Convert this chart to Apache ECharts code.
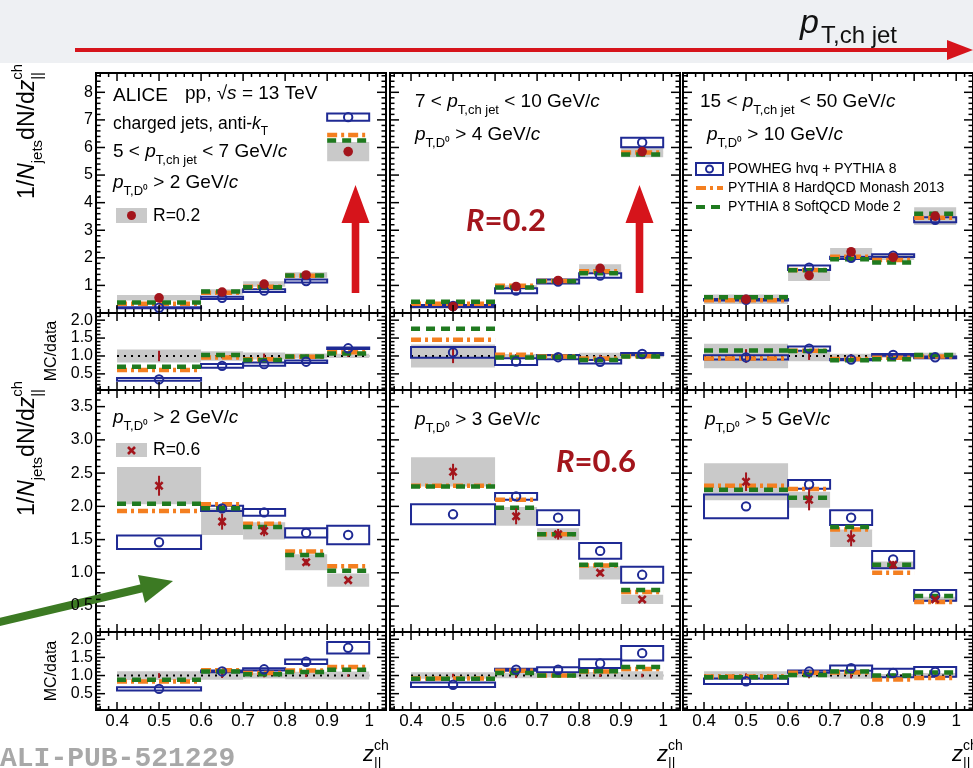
<!DOCTYPE html>
<html>
<head>
<meta charset="utf-8">
<script src="https://cdn.jsdelivr.net/npm/echarts@6.0.0/dist/echarts.min.js"></script>
<style>
  html, body { margin: 0; padding: 0; background: #ffffff; }
  #chart { width: 973px; height: 768px; }
</style>
</head>
<body>
<div id="chart"></div>
<script>
// z_|| bins
const binLow  = [0.4, 0.6, 0.7, 0.8, 0.9];
const binHigh = [0.6, 0.7, 0.8, 0.9, 1.0];
const binMid  = [0.5, 0.65, 0.75, 0.85, 0.95];

// axis tick labels
const xTickLabels       = [0.4, 0.5, 0.6, 0.7, 0.8, 0.9, 1];
const yLabelsTopMain    = [1, 2, 3, 4, 5, 6, 7, 8];
const yLabelsBottomMain = [0.5, 1.0, 1.5, 2.0, 2.5, 3.0, 3.5];
const yLabelsRatio      = [0.5, 1.0, 1.5, 2.0];

// R = 0.2, 5 < pT,ch jet < 7 GeV/c, pT,D0 > 2 GeV/c
const dataA   = [0.55, 0.76, 1.05, 1.38, 5.85];
const statA   = [0.08, 0.05, 0.07, 0.05, 0.15];
const sysA    = [0.10, 0.10, 0.10, 0.10, 0.35];
const powA    = [0.19, 0.55, 0.81, 1.16, 7.10];
const powErrA = [0.022, 0.04, 0.05, 0.05, 0.13];
const monA    = [0.335, 0.73, 0.955, 1.35, 6.45];
const softA   = [0.385, 0.78, 0.93, 1.36, 6.25];

// R = 0.2, 7 < pT,ch jet < 10 GeV/c, pT,D0 > 4 GeV/c
const dataB   = [0.23, 0.96, 1.18, 1.62, 5.85];
const statB   = [0.046, 0.05, 0.05, 0.05, 0.10];
const sysB    = [0.074, 0.05, 0.06, 0.15, 0.20];
const powB    = [0.253, 0.81, 1.14, 1.36, 6.18];
const powErrB = [0.035, 0.09, 0.07, 0.08, 0.17];
const monB    = [0.334, 0.99, 1.16, 1.51, 5.82];
const softB   = [0.405, 0.92, 1.15, 1.44, 5.75];

// R = 0.2, 15 < pT,ch jet < 50 GeV/c, pT,D0 > 10 GeV/c
const dataC   = [0.50, 1.36, 2.22, 2.02, 3.51];
const statC   = [0.095, 0.15, 0.12, 0.07, 0.10];
const sysC    = [0.17, 0.20, 0.14, 0.10, 0.32];
const powC    = [0.48, 1.64, 2.00, 2.08, 3.38];
const powErrC = [0.03, 0.08, 0.04, 0.05, 0.09];
const monC    = [0.465, 1.56, 2.04, 1.92, 3.45];
const softC   = [0.575, 1.55, 1.95, 1.83, 3.60];

// R = 0.6, pT,D0 > 2 GeV/c
const dataD   = [2.31, 1.77, 1.63, 1.16, 0.89];
const statD   = [0.15, 0.12, 0.08, 0.05, 0.03];
const sysD    = [0.28, 0.20, 0.13, 0.12, 0.10];
const powD    = [1.46, 1.97, 1.91, 1.60, 1.57];
const powErrD = [0.10, 0.04, 0.05, 0.07, 0.14];
const monD    = [1.93, 2.03, 1.74, 1.32, 1.10];
const softD   = [2.04, 1.97, 1.69, 1.27, 1.03];

// R = 0.6, pT,D0 > 3 GeV/c
const dataE   = [2.52, 1.85, 1.58, 1.00, 0.60];
const statE   = [0.12, 0.12, 0.08, 0.04, 0.03];
const sysE    = [0.22, 0.14, 0.09, 0.10, 0.07];
const powE    = [1.88, 2.15, 1.83, 1.33, 0.97];
const powErrE = [0.15, 0.05, 0.11, 0.12, 0.12];
const monE    = [2.31, 2.10, 1.58, 1.11, 0.71];
const softE   = [2.30, 1.98, 1.58, 1.12, 0.74];

// R = 0.6, pT,D0 > 5 GeV/c
const dataF   = [2.37, 2.10, 1.52, 1.12, 0.60];
const statF   = [0.14, 0.16, 0.12, 0.06, 0.03];
const sysF    = [0.28, 0.12, 0.13, 0.05, 0.04];
const powF    = [2.00, 2.33, 1.83, 1.20, 0.66];
const powErrF = [0.18, 0.065, 0.11, 0.13, 0.08];
const monF    = [2.31, 2.26, 1.65, 1.00, 0.56];
const softF   = [2.25, 2.13, 1.69, 1.12, 0.65];

const panels = [
  { data: dataA, stat: statA, sys: sysA, pow: powA, powErr: powErrA, mon: monA, soft: softA, mark: 'dot' },
  { data: dataB, stat: statB, sys: sysB, pow: powB, powErr: powErrB, mon: monB, soft: softB, mark: 'dot' },
  { data: dataC, stat: statC, sys: sysC, pow: powC, powErr: powErrC, mon: monC, soft: softC, mark: 'dot' },
  { data: dataD, stat: statD, sys: sysD, pow: powD, powErr: powErrD, mon: monD, soft: softD, mark: 'x' },
  { data: dataE, stat: statE, sys: sysE, pow: powE, powErr: powErrE, mon: monE, soft: softE, mark: 'x' },
  { data: dataF, stat: statF, sys: sysF, pow: powF, powErr: powErrF, mon: monF, soft: softF, mark: 'x' }
];

const FONT = '"Liberation Sans", Arial, Helvetica, sans-serif';
const COL = {
  data: '#a3151c', sys: '#c9c9c9', pow: '#1f2a94',
  mon: '#f47f20', soft: '#1f7a1f', arrow: '#d6141b', label: '#a3151c'
};
const monStyle  = { stroke: COL.mon,  lineWidth: 4.5, lineDash: [10, 4, 3, 4] };
const softStyle = { stroke: COL.soft, lineWidth: 4.5, lineDash: [9, 6] };

// panel geometry
const colLeft = [96, 390, 683];
const colWidth = 290;
const xMin = 0.35, xMax = 1.04;
const rows = [
  { top: 73,  height: 240, min: 0,    max: 8.7,  labels: yLabelsTopMain,    major: 1,   minor: 0.2, fmt: v => String(v) },
  { top: 313, height: 77,  min: 0.05, max: 2.2,  labels: yLabelsRatio,      major: 0.5, minor: 0.1, fmt: v => v.toFixed(1) },
  { top: 390, height: 242, min: 0.11, max: 3.75, labels: yLabelsBottomMain, major: 0.5, minor: 0.1, fmt: v => v.toFixed(1) },
  { top: 632, height: 78,  min: 0.05, max: 2.2,  labels: yLabelsRatio,      major: 0.5, minor: 0.1, fmt: v => v.toFixed(1) }
];

function stepValues(lo, hi, step, skip) {
  const out = [];
  const n0 = Math.ceil(lo / step - 1e-9), n1 = Math.floor(hi / step + 1e-9);
  for (let k = n0; k <= n1; k++) {
    const v = +(k * step).toFixed(6);
    if (skip && Math.abs(v / skip - Math.round(v / skip)) < 1e-6) continue;
    out.push(v);
  }
  return out;
}

const grids = [], xAxes = [], yAxes = [], series = [];

function addGrid(gi, col, row, showX, showY) {
  grids[gi] = {
    left: colLeft[col], top: row.top, width: colWidth, height: row.height,
    show: true, borderColor: '#000', borderWidth: 2, backgroundColor: 'rgba(0,0,0,0)'
  };
  xAxes[gi] = {
    gridIndex: gi, type: 'value', min: xMin, max: xMax,
    axisLine: { show: false }, axisTick: { show: false }, splitLine: { show: false },
    axisLabel: showX ? {
      customValues: xTickLabels, formatter: v => (v === 1 ? '1' : v.toFixed(1)),
      fontSize: 17, color: '#000', fontFamily: FONT, margin: 3
    } : { show: false }
  };
  yAxes[gi] = {
    gridIndex: gi, type: 'value', min: row.min, max: row.max,
    axisLine: { show: false }, axisTick: { show: false }, splitLine: { show: false },
    axisLabel: showY ? {
      customValues: row.labels, formatter: row.fmt,
      fontSize: 16, color: '#000', fontFamily: FONT, margin: 3
    } : { show: false }
  };
  // ROOT style ticks on all four sides, pointing inwards
  const xMaj = stepValues(0.4, 1.0, 0.1);
  const xMnr = stepValues(xMin, xMax, 0.02, 0.1);
  const yMaj = stepValues(row.min, row.max, row.major);
  const yMnr = stepValues(row.min, row.max, row.minor, row.major);
  series.push({
    type: 'custom', xAxisIndex: gi, yAxisIndex: gi, z: 7, silent: true,
    data: [[xMin, row.min]],
    renderItem: (params, api) => {
      const ch = [];
      const L = (x1, y1, x2, y2) => ch.push({ type: 'line', shape: { x1, y1, x2, y2 }, style: { stroke: '#000', lineWidth: 1.5 } });
      const xt = (v, len) => {
        const b = api.coord([v, row.min]), t = api.coord([v, row.max]);
        L(b[0], b[1], b[0], b[1] - len); L(t[0], t[1], t[0], t[1] + len);
      };
      const yt = (v, len) => {
        const l = api.coord([xMin, v]), r = api.coord([xMax, v]);
        L(l[0], l[1], l[0] + len, l[1]); L(r[0], r[1], r[0] - len, r[1]);
      };
      xMaj.forEach(v => xt(v, 8)); xMnr.forEach(v => xt(v, 4));
      yMaj.forEach(v => yt(v, 9)); yMnr.forEach(v => yt(v, 4.5));
      return { type: 'group', children: ch };
    }
  });
}

function boxSeries(gi, items, style, z) {
  return {
    type: 'custom', xAxisIndex: gi, yAxisIndex: gi, z, silent: true, data: items,
    renderItem: (params, api) => {
      const a = api.coord([api.value(0), api.value(3)]);
      const b = api.coord([api.value(1), api.value(2)]);
      return { type: 'rect', shape: { x: a[0], y: a[1], width: b[0] - a[0], height: b[1] - a[1] }, style: Object.assign({}, style) };
    }
  };
}

function lineSeries(gi, items, style, z) {
  return {
    type: 'custom', xAxisIndex: gi, yAxisIndex: gi, z, silent: true, data: items,
    renderItem: (params, api) => {
      const a = api.coord([api.value(0), api.value(2)]);
      const b = api.coord([api.value(1), api.value(2)]);
      return { type: 'line', shape: { x1: a[0], y1: a[1], x2: b[0], y2: b[1] }, style: Object.assign({}, style) };
    }
  };
}

function pointSeries(gi, items, kind, color, z) {
  return {
    type: 'custom', xAxisIndex: gi, yAxisIndex: gi, z, silent: true, data: items,
    renderItem: (params, api) => {
      const c = api.coord([api.value(0), api.value(1)]);
      const lo = api.coord([api.value(0), api.value(2)]);
      const hi = api.coord([api.value(0), api.value(3)]);
      const ch = [];
      if (Math.abs(lo[1] - hi[1]) > 0.5) {
        ch.push({ type: 'line', shape: { x1: c[0], y1: lo[1], x2: c[0], y2: hi[1] }, style: { stroke: color, lineWidth: 2 } });
      }
      if (kind === 'dot') {
        ch.push({ type: 'circle', shape: { cx: c[0], cy: c[1], r: 4.8 }, style: { fill: color } });
      } else if (kind === 'open') {
        ch.push({ type: 'circle', shape: { cx: c[0], cy: c[1], r: 4.2 }, style: { fill: 'none', stroke: color, lineWidth: 2 } });
      } else if (kind === 'x') {
        const s = 3.6;
        ch.push({ type: 'line', shape: { x1: c[0] - s, y1: c[1] - s, x2: c[0] + s, y2: c[1] + s }, style: { stroke: color, lineWidth: 2.6 } });
        ch.push({ type: 'line', shape: { x1: c[0] - s, y1: c[1] + s, x2: c[0] + s, y2: c[1] - s }, style: { stroke: color, lineWidth: 2.6 } });
      }
      return { type: 'group', children: ch };
    }
  };
}

panels.forEach((P, p) => {
  const col = p % 3, r = Math.floor(p / 3);
  const gm = 2 * p, gr = 2 * p + 1;
  addGrid(gm, col, rows[2 * r], false, col === 0);
  addGrid(gr, col, rows[2 * r + 1], r === 1, col === 0);

  // distributions
  series.push(boxSeries(gm, binLow.map((lo, i) => [lo, binHigh[i], P.data[i] - P.sys[i], P.data[i] + P.sys[i]]), { fill: COL.sys }, 1));
  series.push(boxSeries(gm, binLow.map((lo, i) => [lo, binHigh[i], P.pow[i] - P.powErr[i], P.pow[i] + P.powErr[i]]), { fill: 'none', stroke: COL.pow, lineWidth: 2 }, 2));
  series.push(lineSeries(gm, binLow.map((lo, i) => [lo, binHigh[i], P.mon[i]]), monStyle, 3));
  series.push(lineSeries(gm, binLow.map((lo, i) => [lo, binHigh[i], P.soft[i]]), softStyle, 4));
  series.push(pointSeries(gm, binMid.map((x, i) => [x, P.pow[i], P.pow[i], P.pow[i]]), 'open', COL.pow, 5));
  series.push(pointSeries(gm, binMid.map((x, i) => [x, P.data[i], P.data[i] - P.stat[i], P.data[i] + P.stat[i]]), P.mark, COL.data, 6));

  // MC / data
  const rel = (arr, i) => arr[i] / P.data[i];
  series.push(boxSeries(gr, binLow.map((lo, i) => [lo, binHigh[i], 1 - rel(P.sys, i), 1 + rel(P.sys, i)]), { fill: COL.sys }, 1));
  series.push(lineSeries(gr, [[0.4, 1.0, 1]], { stroke: '#000', lineWidth: 2, lineDash: [2, 5] }, 2));
  series.push(pointSeries(gr, binMid.map((x, i) => [x, 1, 1 - rel(P.stat, i), 1 + rel(P.stat, i)]), 'none', COL.data, 3));
  series.push(boxSeries(gr, binLow.map((lo, i) => [lo, binHigh[i], rel(P.pow, i) - rel(P.powErr, i), rel(P.pow, i) + rel(P.powErr, i)]), { fill: 'none', stroke: COL.pow, lineWidth: 2 }, 3));
  series.push(lineSeries(gr, binLow.map((lo, i) => [lo, binHigh[i], rel(P.mon, i)]), monStyle, 4));
  series.push(lineSeries(gr, binLow.map((lo, i) => [lo, binHigh[i], rel(P.soft, i)]), softStyle, 5));
  series.push(pointSeries(gr, binMid.map((x, i) => [x, rel(P.pow, i), rel(P.pow, i), rel(P.pow, i)]), 'open', COL.pow, 6));
});

// ---------- text helpers (sub/superscripts laid out piece by piece) ----------
const measureCtx = document.createElement('canvas').getContext('2d');
function textWidth(t, size, italic, weight, family) {
  measureCtx.font = `${italic ? 'italic' : 'normal'} ${weight || 'normal'} ${size}px ${family || FONT}`;
  return measureCtx.measureText(t).width;
}
function richParts(parts, base, o) {
  const fam = o.family || FONT, weight = o.weight || 'normal', color = o.color || '#000';
  const small = o.small || Math.round(base * 0.7);
  const children = [];
  let cx = 0;
  for (let p of parts) {
    if (typeof p === 'string') p = { t: p };
    const size = (p.sub || p.sup) ? small : base;
    const dy = p.sub ? base * 0.42 : (p.sup ? -base * 0.42 : 0);
    children.push({
      type: 'text', x: cx, y: dy, silent: true,
      style: { text: p.t, fontSize: size, fontFamily: fam, fontWeight: weight, fontStyle: p.i ? 'italic' : 'normal', fill: color, align: 'left', verticalAlign: 'middle' }
    });
    if (!p.hold) cx += textWidth(p.t, size, p.i, weight, fam);
  }
  return { children, width: cx };
}
function textAt(x, y, parts, base, o = {}) {
  const r = richParts(parts, base, o);
  return { type: 'group', x, y, rotation: o.rotation || 0, silent: true, children: r.children };
}
function textWidthOf(parts, base, o = {}) { return richParts(parts, base, o).width; }

const P_CHJET = [{ t: 'p', i: true }, { t: 'T,ch jet', sub: true }];
const P_D0 = [{ t: 'p', i: true }, { t: 'T,D⁰', sub: true }];
const GEVC = (s) => [s + ' GeV/', { t: 'c', i: true }];

const g = [];
// header band with the jet-momentum arrow
g.push({ type: 'rect', shape: { x: 0, y: 0, width: 973, height: 63 }, style: { fill: '#eef0f3' }, silent: true });
g.push({ type: 'line', shape: { x1: 75, y1: 50, x2: 952, y2: 50 }, style: { stroke: COL.arrow, lineWidth: 4 }, silent: true });
g.push({ type: 'polygon', shape: { points: [[973, 50], [947, 40], [947, 60]] }, style: { fill: COL.arrow }, silent: true });
g.push({ type: 'text', x: 800, y: 24, silent: true, style: { text: 'p', fontSize: 34, fontStyle: 'italic', fontFamily: FONT, fill: '#111', align: 'left', verticalAlign: 'middle' } });
g.push({ type: 'text', x: 821, y: 36, silent: true, style: { text: 'T,ch jet', fontSize: 24, fontFamily: FONT, fill: '#111', align: 'left', verticalAlign: 'middle' } });

// y-axis titles
const yTitle = [{ t: '1/' }, { t: 'N', i: true }, { t: 'jets', sub: true }, { t: 'dN/d' }, { t: 'z', i: true }, { t: 'ch', sup: true, hold: true }, { t: '||', sub: true }];
const yTitleW = textWidthOf(yTitle, 23, { small: 15 });
g.push(textAt(28, 72 + yTitleW, yTitle, 23, { rotation: Math.PI / 2, small: 15 }));
g.push(textAt(28, 389 + yTitleW, yTitle, 23, { rotation: Math.PI / 2, small: 15 }));
const mcW = textWidthOf(['MC/data'], 16);
g.push(textAt(52, 351 + mcW / 2, ['MC/data'], 16, { rotation: Math.PI / 2 }));
g.push(textAt(52, 671 + mcW / 2, ['MC/data'], 16, { rotation: Math.PI / 2 }));

// x-axis titles
const xTitle = [{ t: 'z', i: true }, { t: 'ch', sup: true, hold: true }, { t: '||', sub: true }];
[363, 657, 952].forEach(x => g.push(textAt(x, 755, xTitle, 22, { small: 14 })));

// panel captions
g.push(textAt(113, 96, ['ALICE'], 19));
g.push(textAt(185, 94, ['pp, √', { t: 's', i: true }, ' = 13 TeV'], 19));
g.push(textAt(113, 124, ['charged jets, anti-', { t: 'k', i: true }, { t: 'T', sub: true }], 17.5));
g.push(textAt(113, 152, ['5 < ', ...P_CHJET, ...GEVC(' < 7')], 19));
g.push(textAt(113, 183, [...P_D0, ...GEVC(' > 2')], 19));
g.push(textAt(415, 102, ['7 < ', ...P_CHJET, ...GEVC(' < 10')], 19));
g.push(textAt(415, 135, [...P_D0, ...GEVC(' > 4')], 19));
g.push(textAt(700, 102, ['15 < ', ...P_CHJET, ...GEVC(' < 50')], 19));
g.push(textAt(707, 135, [...P_D0, ...GEVC(' > 10')], 19));
g.push(textAt(113, 418, [...P_D0, ...GEVC(' > 2')], 19));
g.push(textAt(415, 420, [...P_D0, ...GEVC(' > 3')], 19));
g.push(textAt(705, 420, [...P_D0, ...GEVC(' > 5')], 19));

// data legends
g.push({ type: 'rect', shape: { x: 116, y: 208, width: 31, height: 15 }, style: { fill: COL.sys }, silent: true });
g.push({ type: 'circle', shape: { cx: 131.5, cy: 215.5, r: 4.5 }, style: { fill: COL.data }, silent: true });
g.push(textAt(153, 216, ['R=0.2'], 17.5));
g.push({ type: 'rect', shape: { x: 116, y: 443, width: 31, height: 14 }, style: { fill: COL.sys }, silent: true });
g.push({ type: 'line', shape: { x1: 128, y1: 447, x2: 135, y2: 454 }, style: { stroke: COL.data, lineWidth: 2.6 }, silent: true });
g.push({ type: 'line', shape: { x1: 128, y1: 454, x2: 135, y2: 447 }, style: { stroke: COL.data, lineWidth: 2.6 }, silent: true });
g.push(textAt(153, 450, ['R=0.6'], 17.5));

// model legend
g.push({ type: 'rect', shape: { x: 696, y: 163, width: 27, height: 12 }, style: { fill: 'none', stroke: COL.pow, lineWidth: 2 }, silent: true });
g.push({ type: 'circle', shape: { cx: 709.5, cy: 169, r: 3.5 }, style: { fill: 'none', stroke: COL.pow, lineWidth: 2 }, silent: true });
g.push({ type: 'line', shape: { x1: 696, y1: 188, x2: 723, y2: 188 }, style: Object.assign({}, monStyle, { lineWidth: 4 }), silent: true });
g.push({ type: 'line', shape: { x1: 696, y1: 207, x2: 723, y2: 207 }, style: Object.assign({}, softStyle, { lineWidth: 4 }), silent: true });
g.push(textAt(728, 169, ['POWHEG hvq + PYTHIA 8'], 14));
g.push(textAt(728, 188, ['PYTHIA 8 HardQCD Monash 2013'], 14));
g.push(textAt(728, 207, ['PYTHIA 8 SoftQCD Mode 2'], 14));

// jet-radius annotations and arrows
g.push(textAt(466, 221, [{ t: 'R', i: true }, '=0.2'], 31, { family: 'Lato, "Open Sans", sans-serif', weight: 'bold', color: COL.label }));
g.push(textAt(556, 462, [{ t: 'R', i: true }, '=0.6'], 31, { family: 'Lato, "Open Sans", sans-serif', weight: 'bold', color: COL.label }));
[355.5, 639.5].forEach(cx => {
  g.push({ type: 'polygon', shape: { points: [[cx - 3.8, 293], [cx + 3.8, 293], [cx + 3.8, 223], [cx + 14, 223], [cx, 185], [cx - 14, 223], [cx - 3.8, 223]] }, style: { fill: COL.arrow }, silent: true });
});
g.push({ type: 'line', shape: { x1: -5, y1: 623, x2: 143, y2: 588 }, style: { stroke: '#3c7a23', lineWidth: 8 }, silent: true });
g.push({ type: 'polygon', shape: { points: [[173, 581], [138, 575], [145, 603]] }, style: { fill: '#3c7a23' }, silent: true });

// publication tag
g.push({ type: 'text', x: 0, y: 759, silent: true, style: { text: 'ALI-PUB-521229', fontSize: 28, fontFamily: '"Liberation Mono", "DejaVu Sans Mono", monospace', fontWeight: 'bold', fill: '#a8a8a8', align: 'left', verticalAlign: 'middle' } });

const chart = echarts.init(document.getElementById('chart'), null, { renderer: 'canvas' });
chart.setOption({
  backgroundColor: '#ffffff',
  animation: false,
  grid: grids,
  xAxis: xAxes,
  yAxis: yAxes,
  series: series,
  graphic: { elements: g }
});
</script>
</body>
</html>
